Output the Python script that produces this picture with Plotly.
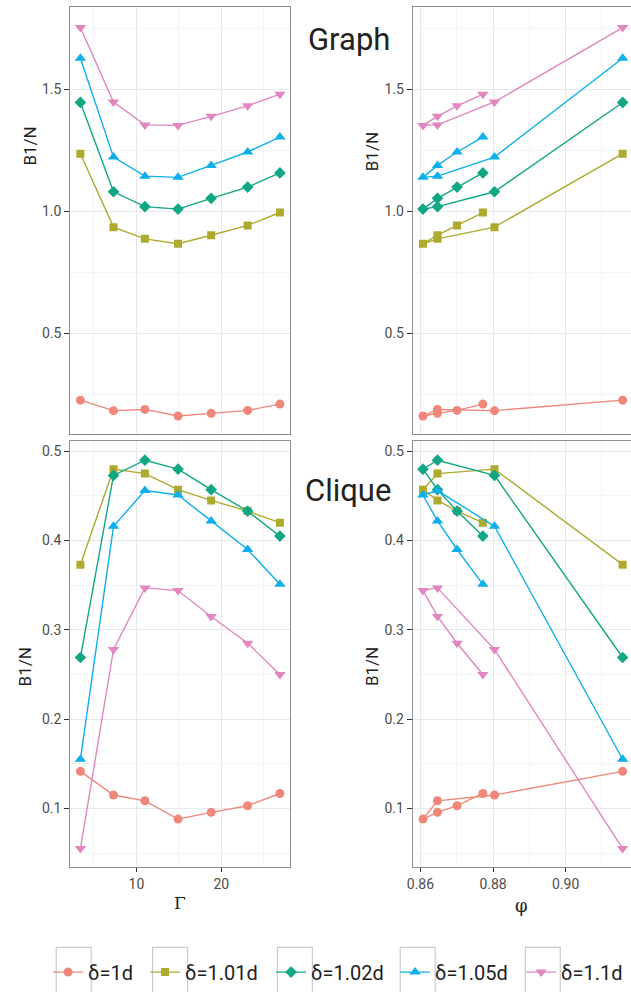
import plotly.graph_objects as go

# ---------------- data ----------------
gamma = [3.4, 7.3, 11.0, 14.9, 18.8, 23.1, 26.9]
phi = [0.9157, 0.8804, 0.8647, 0.8607, 0.8647, 0.8701, 0.8772]

series_names = ["δ=1d", "δ=1.01d", "δ=1.02d", "δ=1.05d", "δ=1.1d"]

graph_1d = [0.226, 0.183, 0.188, 0.161, 0.172, 0.184, 0.210]
graph_101d = [1.236, 0.935, 0.887, 0.867, 0.902, 0.942, 0.995]
graph_102d = [1.446, 1.080, 1.019, 1.009, 1.053, 1.099, 1.157]
graph_105d = [1.627, 1.222, 1.144, 1.139, 1.188, 1.243, 1.304]
graph_11d = [1.753, 1.448, 1.354, 1.352, 1.389, 1.432, 1.480]

clique_1d = [0.1415, 0.115, 0.1085, 0.088, 0.0956, 0.103, 0.1167]
clique_101d = [0.373, 0.480, 0.475, 0.457, 0.445, 0.433, 0.420]
clique_102d = [0.269, 0.473, 0.490, 0.480, 0.457, 0.433, 0.405]
clique_105d = [0.155, 0.416, 0.456, 0.451, 0.422, 0.390, 0.351]
clique_11d = [0.055, 0.278, 0.347, 0.344, 0.315, 0.285, 0.250]

graph_series = [graph_1d, graph_101d, graph_102d, graph_105d, graph_11d]
clique_series = [clique_1d, clique_101d, clique_102d, clique_105d, clique_11d]

# ---------------- styles ----------------
colors = ["#F0877B", "#ADAA2E", "#12A784", "#0EAFEA", "#E087BF"]
symbols = ["circle", "square", "diamond", "triangle-up", "triangle-down"]
msizes = [9, 8, 9, 10, 10]
legend_widths = [52, 81, 79, 81, 60]

FONT = "Roboto, sans-serif"
W, H = 631, 992


def px(x):
    return x / W


def py(y):
    return 1 - y / H


fig = go.Figure()

panels = [
    ("x", "y", gamma, graph_series, True),
    ("x2", "y2", phi, graph_series, False),
    ("x3", "y3", gamma, clique_series, False),
    ("x4", "y4", phi, clique_series, False),
]

for xa, ya, xs, series, show in panels:
    for i, vals in enumerate(series):
        fig.add_trace(go.Scatter(
            x=xs, y=vals, xaxis=xa, yaxis=ya,
            mode="lines+markers",
            name=series_names[i],
            legendgroup=series_names[i],
            showlegend=show,
            legendwidth=legend_widths[i],
            line=dict(color=colors[i], width=1.4),
            marker=dict(color=colors[i], symbol=symbols[i], size=msizes[i],
                        line=dict(width=0)),
        ))

grid_major = "#E6E9EC"
grid_minor = "#F3F4F6"
border = "#8A8F94"
tickc = "#4D4D4D"
tickfont = dict(family=FONT, size=14, color=tickc)


def xax(domain, rng, dtick, minor_dtick, anchor, labels):
    return dict(
        domain=domain, range=rng, anchor=anchor,
        dtick=dtick, tick0=0, showgrid=True, gridcolor=grid_major, gridwidth=1,
        minor=dict(dtick=minor_dtick, showgrid=True, gridcolor=grid_minor, gridwidth=1),
        zeroline=False, showline=True, linecolor=border, linewidth=1.3, mirror=True,
        ticks="outside" if labels else "", ticklen=4, tickcolor="#333333", tickwidth=1,
        showticklabels=labels, tickfont=tickfont,
    )


def yax(domain, rng, dtick, minor_dtick, anchor, mirror):
    return dict(
        domain=domain, range=rng, anchor=anchor,
        dtick=dtick, tick0=0, showgrid=True, gridcolor=grid_major, gridwidth=1,
        minor=dict(dtick=minor_dtick, showgrid=True, gridcolor=grid_minor, gridwidth=1),
        zeroline=False, showline=True, linecolor=border, linewidth=1.3, mirror=mirror,
        ticks="outside", ticklen=5, tickcolor="#333333", tickwidth=1.2,
        showticklabels=True, tickfont=tickfont, tickformat=".1f",
    )


left_dom = [px(65), px(287)]
right_dom = [px(410.7), 1.0]
top_dom = [py(438), py(7)]
bot_dom = [py(874), py(444.7)]

gamma_rng = [2.22, 28.12]
phi_rng = [0.8579, 0.9180]
graph_rng = [0.0854, 1.8374]
clique_rng = [0.0344, 0.5114]

fig.update_layout(
    width=W, height=H,
    margin=dict(l=0, r=0, t=0, b=0),
    paper_bgcolor="white", plot_bgcolor="white",
    font=dict(family=FONT, color="#222222"),
    xaxis=xax(left_dom, gamma_rng, 10, 5, "y", False),
    yaxis=yax(top_dom, graph_rng, 0.5, 0.25, "x", True),
    xaxis2=xax(right_dom, phi_rng, 0.02, 0.01, "y2", False),
    yaxis2=yax(top_dom, graph_rng, 0.5, 0.25, "x2", False),
    xaxis3=xax(left_dom, gamma_rng, 10, 5, "y3", True),
    yaxis3=yax(bot_dom, clique_rng, 0.1, 0.05, "x3", True),
    xaxis4=xax(right_dom, phi_rng, 0.02, 0.01, "y4", True),
    yaxis4=yax(bot_dom, clique_rng, 0.1, 0.05, "x4", False),
    showlegend=True,
    legend=dict(
        orientation="h", x=px(42.5), xanchor="left", y=py(980), yanchor="middle",
        font=dict(family=FONT, size=20, color="#222222"),
        bgcolor="rgba(0,0,0,0)", borderwidth=0, itemclick=False,
        tracegroupgap=0,
    ),
)
fig.update_layout(xaxis4=dict(tickformat=".2f"))

ann = []
# y-axis titles
for (cx, cy) in [(24, 147), (369, 153), (19, 672), (369, 672)]:
    ann.append(dict(text="B1/N", x=px(cx), y=py(cy), xref="paper", yref="paper",
                    xanchor="center", yanchor="middle", textangle=-90, showarrow=False,
                    font=dict(family=FONT, size=17, color="#222222")))
# x-axis titles
ann.append(dict(text="Γ", x=px(176), y=py(910), xref="paper", yref="paper",
                xanchor="center", yanchor="middle", showarrow=False,
                font=dict(family="DejaVu Serif, serif", size=17, color="#222222")))
ann.append(dict(text="φ", x=px(520), y=py(913), xref="paper", yref="paper",
                xanchor="center", yanchor="middle", showarrow=False,
                font=dict(family="DejaVu Serif, serif", size=18, color="#222222")))
# row labels
ann.append(dict(text="Graph", x=px(346), y=py(40), xref="paper", yref="paper",
                xanchor="center", yanchor="middle", showarrow=False,
                font=dict(family=FONT, size=31, color="#222222")))
ann.append(dict(text="Clique", x=px(345), y=py(494), xref="paper", yref="paper",
                xanchor="center", yanchor="middle", showarrow=False,
                font=dict(family=FONT, size=31, color="#222222")))
fig.update_layout(annotations=ann)

# legend key boxes
shapes = []
for bx in [50.7, 148, 274, 398, 524.3]:
    shapes.append(dict(type="rect", xref="paper", yref="paper",
                       x0=px(bx), x1=px(bx + 35.3), y0=py(1010), y1=py(955),
                       line=dict(color="#C9CCCF", width=1.2), fillcolor="rgba(0,0,0,0)"))
fig.update_layout(shapes=shapes)

fig.write_html("out.html")
